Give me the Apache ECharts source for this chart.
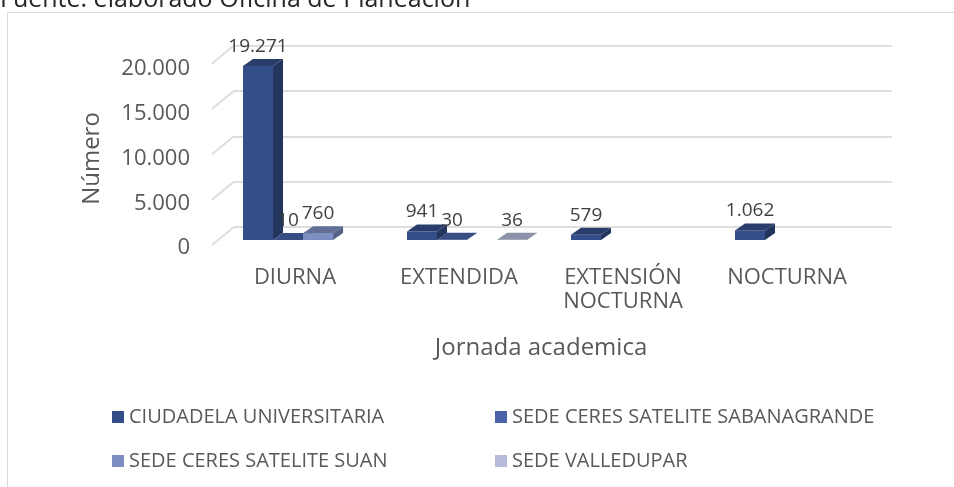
<!DOCTYPE html>
<html>
<head>
<meta charset="utf-8">
<script src="https://cdn.jsdelivr.net/npm/echarts@6/dist/echarts.min.js"></script>
<style>
html, body { margin: 0; padding: 0; background: #fff; }
#chart { width: 954px; height: 487px; }
</style>
</head>
<body>
<div id="chart"></div>
<script>
// datos
var categories = ['DIURNA', 'EXTENDIDA', 'EXTENSIÓN NOCTURNA', 'NOCTURNA']
var seriesNames = ['CIUDADELA UNIVERSITARIA', 'SEDE CERES SATELITE SABANAGRANDE', 'SEDE CERES SATELITE SUAN', 'SEDE VALLEDUPAR']
var ciudadela = [19271, 941, 579, 1062]
var sabanagrande = [10, 30, null, null]
var suan = [760, null, null, null]
var valledupar = [null, 36, null, null]
var yTicks = [0, 5000, 10000, 15000, 20000]

var colors = ['#344e89', '#4863a8', '#7d8ec3', '#b5bbd8']
var textColor = '#595959'
var gridColor = '#dedede'

// separador de miles con punto
function fmt(v) {
	return String(v).replace(/\B(?=(\d{3})+(?!\d))/g, '.')
}

function shade(hex, f) {
	var n = parseInt(hex.slice(1), 16)
	var r = Math.round((n >> 16) * f), g = Math.round(((n >> 8) & 255) * f), b = Math.round((n & 255) * f)
	return 'rgb(' + r + ',' + g + ',' + b + ')'
}

// barra con efecto 3d (frente, tapa, lado)
function barRenderer(k) {
	var base = colors[k]
	var dx = 10, dy = -7
	return function(params, api) {
		var v = api.value(1)
		var p0 = api.coord([api.value(0), 0])
		var p1 = api.coord([api.value(0), v])
		var band = api.size([1, 0])[0]
		var w = band * 0.183
		var x0 = p0[0] - band * 0.317 + k * w
		var yt = p1[1], yb = p0[1]
		return {
			type: 'group',
			children: [{
				type: 'polygon',
				shape: { points: [[x0 + w, yt], [x0 + w, yb], [x0 + w + dx, yb + dy], [x0 + w + dx, yt + dy]] },
				style: { fill: shade(base, 0.68) }
			}, {
				type: 'rect',
				shape: { x: x0, y: yt, width: w, height: yb - yt },
				style: { fill: base }
			}, {
				type: 'polygon',
				shape: { points: [[x0, yt], [x0 + w, yt], [x0 + w + dx, yt + dy], [x0 + dx, yt + dy]] },
				style: { fill: shade(base, 0.78) }
			}, {
				type: 'text',
				style: {
					text: fmt(v),
					x: x0 + w / 2,
					y: yt + dy - 3,
					align: 'center',
					verticalAlign: 'bottom',
					fontSize: 19,
					fontFamily: 'Open Sans',
					fill: '#404040'
				}
			}]
		}
	}
}

function toData(arr) {
	var out = []
	for (var i = 0; i < arr.length; i++) {
		if (arr[i] != null) out.push([i, arr[i]])
	}
	return out
}

var values = [ciudadela, sabanagrande, suan, valledupar]
var legendPos = [[112, 407], [495, 407], [112, 451], [495, 451]]

var option = {}
option.animation = false
option.textStyle = { fontFamily: 'Open Sans' }

option.graphic = [{
	type: 'rect',
	left: 5, top: 10,
	shape: { width: 1000, height: 500 },
	style: { fill: 'none', stroke: '#d9d9d9', lineWidth: 1 }
}, {
	type: 'text',
	x: 0, y: 0,
	style: {
		text: 'Fuente: elaborado Oficina de Planeación',
		fontSize: 25,
		fontFamily: 'Open Sans',
		fill: '#262626',
		verticalAlign: 'middle'
	}
}]

// 0: pared del fondo, 1: barras, 2: etiquetas eje y
option.grid = [
	{ left: 234, right: 62, top: 45.5, height: 181.5 },
	{ left: 213, right: 85, top: 59.5, height: 180.5 },
	{ left: 212, right: 85, top: 69, height: 179 }
]

option.xAxis = [{
	type: 'value', gridIndex: 0, min: 0, max: 1, show: false
}, {
	type: 'category',
	gridIndex: 1,
	data: categories,
	axisLine: { show: false },
	axisTick: { show: false },
	axisLabel: {
		margin: 26,
		fontSize: 22,
		lineHeight: 24,
		color: textColor,
		formatter: function(v) { return v.replace(' ', '\n') }
	},
	name: 'Jornada academica',
	nameLocation: 'middle',
	nameGap: 96,
	nameTextStyle: { fontSize: 24, color: textColor }
}, {
	type: 'value', gridIndex: 2, min: 0, max: 1, show: false
}]

option.yAxis = [{
	type: 'value',
	gridIndex: 0,
	min: 0, max: 20000, interval: 5000,
	axisLabel: { show: false },
	axisLine: { show: false },
	axisTick: { show: false },
	splitLine: { lineStyle: { color: gridColor, width: 2 } }
}, {
	type: 'value',
	gridIndex: 1,
	min: 0, max: 20000,
	show: false
}, {
	type: 'value',
	gridIndex: 2,
	min: 0, max: 20000, interval: 5000,
	axisLine: { show: false },
	axisTick: { show: false },
	splitLine: { show: false },
	axisLabel: { margin: 22, fontSize: 22, color: textColor, formatter: fmt },
	name: 'Número',
	nameLocation: 'middle',
	nameGap: 108,
	nameTextStyle: { fontSize: 24, color: textColor }
}]

option.legend = seriesNames.map(function(name, i) {
	return {
		data: [name],
		left: legendPos[i][0],
		top: legendPos[i][1],
		padding: 0,
		icon: 'rect',
		itemWidth: 12,
		itemHeight: 12,
		itemGap: 4,
		textStyle: { fontSize: 20, color: textColor },
		selectedMode: false
	}
})

// lineas diagonales del piso/pared
option.series = [{
	type: 'custom',
	xAxisIndex: 0,
	yAxisIndex: 0,
	silent: true,
	data: yTicks.map(function(v) { return [0, v] }),
	renderItem: function(params, api) {
		var p = api.coord([0, api.value(1)])
		return {
			type: 'line',
			shape: { x1: p[0] - 22, y1: p[1] + 18, x2: p[0], y2: p[1] },
			style: { stroke: gridColor, lineWidth: 2 }
		}
	}
}]

for (var k = 0; k < seriesNames.length; k++) {
	option.series.push({
		name: seriesNames[k],
		type: 'custom',
		xAxisIndex: 1,
		yAxisIndex: 1,
		itemStyle: { color: colors[k] },
		encode: { x: 0, y: 1 },
		data: toData(values[k]),
		renderItem: barRenderer(k)
	})
}

var chart = echarts.init(document.getElementById('chart'))
chart.setOption(option)
</script>
</body>
</html>
